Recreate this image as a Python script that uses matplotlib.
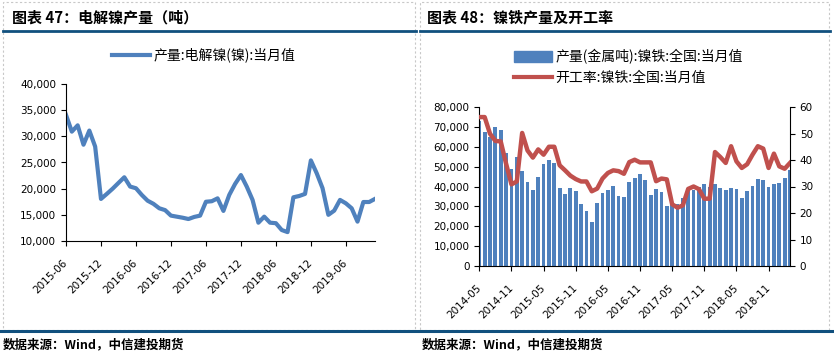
import numpy as np
import matplotlib
matplotlib.use("Agg")
import matplotlib.pyplot as plt
from matplotlib.lines import Line2D
from matplotlib.patches import Rectangle, Patch

plt.rcParams['font.family'] = ['Noto Sans CJK SC', 'DejaVu Sans']

# ---- data: 电解镍产量 (吨), 2015-06 .. 2019-11
ni_months = ['2015-06', '2015-07', '2015-08', '2015-09', '2015-10', '2015-11', '2015-12',
             '2016-01', '2016-02', '2016-03', '2016-04', '2016-05', '2016-06', '2016-07',
             '2016-08', '2016-09', '2016-10', '2016-11', '2016-12',
             '2017-01', '2017-02', '2017-03', '2017-04', '2017-05', '2017-06', '2017-07',
             '2017-08', '2017-09', '2017-10', '2017-11', '2017-12',
             '2018-01', '2018-02', '2018-03', '2018-04', '2018-05', '2018-06', '2018-07',
             '2018-08', '2018-09', '2018-10', '2018-11', '2018-12',
             '2019-01', '2019-02', '2019-03', '2019-04', '2019-05', '2019-06', '2019-07',
             '2019-08', '2019-09', '2019-10', '2019-11']
ni_output = [34100, 30900, 32100, 28400, 31100, 28050, 18040,
             19000, 20000, 21100, 22180, 20400, 20080, 18800, 17700, 17100, 16250, 15900, 14850,
             14650, 14450, 14200, 14600, 14850, 17500, 17600, 18150, 15750, 18800, 20900, 22600,
             20400, 17850, 13500, 14650, 13500, 13400, 12100, 11700, 18350, 18600, 19000, 25400,
             22950, 20100, 15000, 15800, 17850, 17200, 16250, 13700, 17450, 17450, 18050]

# ---- data: 镍铁产量(千金属吨) & 开工率(%), 2014-05 .. 2019-03
fe_months = ['%d-%02d' % (2014 + (4 + i) // 12, (4 + i) % 12 + 1) for i in range(59)]
fe_output = [73.0, 67.3, 65.0, 69.8, 68.3, 56.7, 48.6, 54.7, 47.6, 42.1, 38.4, 45.0, 51.2,
             53.5, 51.7, 39.4, 36.1, 39.4, 37.7, 31.4, 27.5,
             22.3, 31.5, 36.6, 38.2, 40.1, 35.4, 34.7, 42.1, 44.1, 46.1, 43.1, 35.6, 38.6,
             37.1, 30.0, 30.5, 31.0, 34.0, 38.4, 38.2, 40.0,
             41.4, 40.0, 41.4, 39.4, 38.4, 39.4, 38.6, 34.4, 37.9, 40.4, 43.6, 43.1, 39.7,
             41.4, 41.6, 44.1, 48.1]
fe_rate = [56.2, 56.2, 49.9, 47.2, 47.0, 38.6, 30.8, 31.9, 50.2, 43.6, 40.9, 44.0, 42.0,
           45.0, 45.0, 38.0, 36.1, 34.1, 32.8, 31.9, 31.9,
           28.2, 29.2, 33.0, 35.1, 36.1, 35.8, 34.8, 39.2, 40.1, 39.1, 39.1, 39.1, 32.0,
           33.0, 32.7, 23.3, 22.0, 22.9, 29.1, 30.0, 29.0,
           25.4, 25.4, 43.0, 41.1, 38.9, 45.2, 39.5, 37.0, 38.4, 42.0, 45.2, 44.3, 37.0,
           42.4, 37.6, 36.7, 38.9]

blue = '#4F81BD'
red = '#C0504D'
navy = '#11507E'
W, H = 834, 355

fig = plt.figure(figsize=(W / 100, H / 100), dpi=100)


def fx(px):
    return px / W


def fy(py):
    return 1 - py / H


def hline(x0, x1, y, **kw):
    fig.add_artist(Line2D([fx(x0), fx(x1)], [fy(y), fy(y)], transform=fig.transFigure, **kw))


# panel frames, rules, titles, source notes
for x0, x1 in [(3, 415), (420, 829)]:
    fig.add_artist(Rectangle((fx(x0), fy(330)), fx(x1) - fx(x0), fy(2) - fy(330),
                             transform=fig.transFigure, fill=False, ec='#C8C8C8',
                             lw=0.8, ls=(0, (2, 2))))
hline(3, 416, 31, color=navy, lw=2)
hline(420, 830, 31, color=navy, lw=2)
hline(0, 417, 330.5, color=navy, lw=2.2)
hline(420, 834, 330.5, color=navy, lw=2.2)

fig.text(fx(12), fy(17), '图表 47：电解镍产量（吨）', fontsize=10.8, fontweight='bold',
         va='center', ha='left')
fig.text(fx(427), fy(17), '图表 48：镍铁产量及开工率', fontsize=10.8, fontweight='bold',
         va='center', ha='left')
fig.text(fx(3), fy(345), '数据来源：Wind，中信建投期货', fontsize=9, fontweight='bold',
         va='center', ha='left')
fig.text(fx(422), fy(345), '数据来源：Wind，中信建投期货', fontsize=9, fontweight='bold',
         va='center', ha='left')


def style_ticks(ax):
    ax.tick_params(direction='out', length=3.5, width=0.8, labelsize=7.5, colors='black')
    for lab in ax.get_xticklabels() + ax.get_yticklabels():
        lab.set_fontfamily('DejaVu Sans')


# ---- left chart
ax1 = fig.add_axes([fx(66), fy(241), fx(375) - fx(66), fy(84) - fy(241)])
x1 = np.arange(len(ni_months))
ax1.plot(x1, ni_output, color=blue, lw=3, solid_joinstyle='round',
         label='产量:电解镍(镍):当月值')
ax1.set_xlim(0, len(ni_months) - 1)
ax1.set_ylim(10000, 40000)
ax1.set_yticks(np.arange(10000, 40001, 5000))
ax1.set_yticklabels(['{:,}'.format(v) for v in range(10000, 40001, 5000)])
ax1.set_xticks(x1[::6])
ax1.set_xticklabels(ni_months[::6], rotation=45, ha='right', va='center',
                    rotation_mode='anchor')
ax1.tick_params(axis='x', pad=11)
for s in ['top', 'right']:
    ax1.spines[s].set_visible(False)
for s in ['left', 'bottom']:
    ax1.spines[s].set_linewidth(0.8)
style_ticks(ax1)
fig.legend(handles=ax1.get_lines(), loc='center', bbox_to_anchor=(fx(204), fy(55)),
           frameon=False, fontsize=10, handlelength=2.7, handletextpad=0.3,
           borderpad=0, borderaxespad=0)

# ---- right chart
ax2 = fig.add_axes([fx(479.3), fy(266), fx(790) - fx(479.3), fy(107) - fy(266)])
x2 = np.arange(len(fe_months))
ax2.bar(x2, np.array(fe_output) * 1000, width=0.7, color=blue, zorder=2)
ax2.set_xlim(0, len(fe_months) - 1)
ax2.set_ylim(0, 80000)
ax2.set_yticks(np.arange(0, 80001, 10000))
ax2.set_yticklabels(['{:,}'.format(v) for v in range(0, 80001, 10000)])
ax2.set_xticks(x2[::6][:10])
ax2.set_xticklabels(fe_months[::6][:10], rotation=45, ha='right', va='center',
                    rotation_mode='anchor')
ax2.tick_params(axis='x', pad=11)
ax2.spines['top'].set_visible(False)
ax2.spines['right'].set_visible(False)
style_ticks(ax2)

ax3 = ax2.twinx()
ax3.plot(x2, fe_rate, color=red, lw=3.2, solid_joinstyle='round', zorder=3)
ax3.set_ylim(0, 60)
ax3.set_yticks(np.arange(0, 61, 10))
ax3.spines['top'].set_visible(False)
ax3.spines['left'].set_visible(False)
ax3.spines['bottom'].set_visible(False)
ax3.spines['right'].set_linewidth(0.8)
style_ticks(ax3)
for s in ['left', 'bottom']:
    ax2.spines[s].set_linewidth(0.8)

handles = [Patch(color=blue), Line2D([], [], color=red, lw=3)]
fig.legend(handles, ['产量(金属吨):镍铁:全国:当月值', '开工率:镍铁:全国:当月值'],
           loc='upper left', bbox_to_anchor=(fx(514), fy(49)), frameon=False,
           fontsize=10, handlelength=2.7, handleheight=0.85, handletextpad=0.3,
           labelspacing=0.5, borderpad=0, borderaxespad=0)

fig.savefig('out.png', dpi=100)
